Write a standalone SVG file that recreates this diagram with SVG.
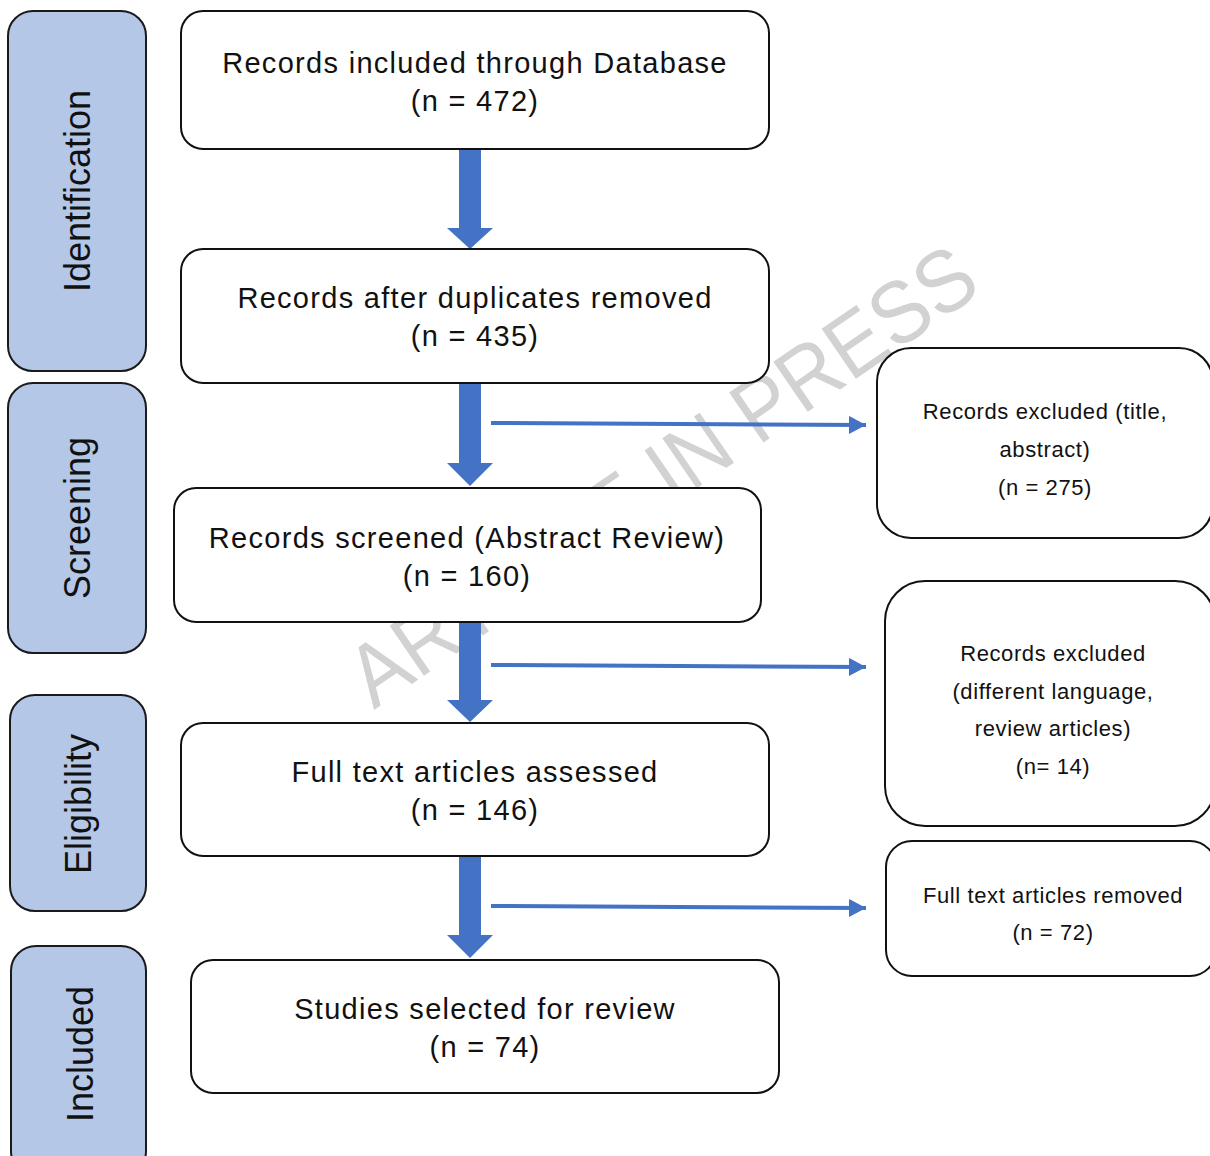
<svg xmlns="http://www.w3.org/2000/svg" width="1210" height="1156" viewBox="0 0 1210 1156">
<style>
.side{fill:#B4C7E7;stroke:#1a1a1a;stroke-width:2}
.box{fill:#fff;stroke:#111;stroke-width:2}
.st{font-family:"Liberation Sans",Arial,sans-serif;font-size:36px;fill:#111;text-anchor:middle}
.mt{font-family:"Liberation Sans",Arial,sans-serif;font-size:29px;fill:#111;text-anchor:middle;letter-spacing:1.3px}
.rt{font-family:"Liberation Sans",Arial,sans-serif;font-size:22px;fill:#111;text-anchor:middle;letter-spacing:0.6px}
.wm{font-family:"Liberation Sans",Arial,sans-serif;font-size:88px;fill:#d2d2d2}
.va{fill:#4472C4}
.ha{stroke:#4472C4;stroke-width:4;fill:none}
</style>
<defs>
<marker id="ah" markerUnits="userSpaceOnUse" markerWidth="18" markerHeight="18" refX="17" refY="9" orient="auto">
<path d="M0,0 L17,9 L0,18 Z" fill="#4472C4"/>
</marker>
</defs>
<rect width="1210" height="1156" fill="#fff"/>
<text class="wm" transform="translate(374,710) rotate(-34.5)" textLength="740" lengthAdjust="spacingAndGlyphs">ARTICLE IN PRESS</text>

<g id="side-identification"><rect class="side" x="8" y="11" width="138" height="360" rx="25"/><text class="st" transform="translate(90,191) rotate(-90)">Identification</text></g>
<g id="side-screening"><rect class="side" x="8" y="383" width="138" height="270" rx="25"/><text class="st" transform="translate(90,518) rotate(-90)">Screening</text></g>
<g id="side-eligibility"><rect class="side" x="10" y="695" width="136" height="216" rx="25"/><text class="st" transform="translate(91,804) rotate(-90)">Eligibility</text></g>
<g id="side-included"><rect class="side" x="11" y="946" width="135" height="230" rx="25"/><text class="st" transform="translate(93,1054) rotate(-90)">Included</text></g>

<g id="connectors">
<path class="va" d="M459,149 H481 V228 H493 L470,249 L447,228 H459 Z"/>
<path class="va" d="M459,383 H481 V463 H493 L470,486 L447,463 H459 Z"/>
<path class="va" d="M459,622 H481 V700 H493 L470,722 L447,700 H459 Z"/>
<path class="va" d="M459,856 H481 V935 H493 L470,958 L447,935 H459 Z"/>
<line class="ha" x1="491" y1="423" x2="866" y2="425" marker-end="url(#ah)"/>
<line class="ha" x1="491" y1="665" x2="866" y2="667" marker-end="url(#ah)"/>
<line class="ha" x1="491" y1="906" x2="866" y2="908" marker-end="url(#ah)"/>
</g>

<g id="box-database"><rect class="box" x="181" y="11" width="588" height="138" rx="22"/><text class="mt" x="475" y="73">Records included through Database</text><text class="mt" x="475" y="111">(n = 472)</text></g>
<g id="box-duplicates"><rect class="box" x="181" y="249" width="588" height="134" rx="22"/><text class="mt" x="475" y="308">Records after duplicates removed</text><text class="mt" x="475" y="346">(n = 435)</text></g>
<g id="box-screened"><rect class="box" x="174" y="488" width="587" height="134" rx="22"/><text class="mt" x="467" y="548">Records screened (Abstract Review)</text><text class="mt" x="467" y="586">(n = 160)</text></g>
<g id="box-fulltext"><rect class="box" x="181" y="723" width="588" height="133" rx="22"/><text class="mt" x="475" y="782">Full text articles assessed</text><text class="mt" x="475" y="820">(n = 146)</text></g>
<g id="box-selected"><rect class="box" x="191" y="960" width="588" height="133" rx="22"/><text class="mt" x="485" y="1019">Studies selected for review</text><text class="mt" x="485" y="1057">(n = 74)</text></g>

<g id="box-excl-title"><rect class="box" x="877" y="348" width="336" height="190" rx="34"/><text class="rt" x="1045" y="419">Records excluded (title,</text><text class="rt" x="1045" y="457">abstract)</text><text class="rt" x="1045" y="495">(n = 275)</text></g>
<g id="box-excl-lang"><rect class="box" x="885" y="581" width="330" height="245" rx="40"/><text class="rt" x="1053" y="661">Records excluded</text><text class="rt" x="1053" y="699">(different language,</text><text class="rt" x="1053" y="736">review articles)</text><text class="rt" x="1053" y="774">(n= 14)</text></g>
<g id="box-removed"><rect class="box" x="886" y="841" width="330" height="135" rx="26"/><text class="rt" x="1053" y="903">Full text articles removed</text><text class="rt" x="1053" y="940">(n = 72)</text></g>
</svg>
